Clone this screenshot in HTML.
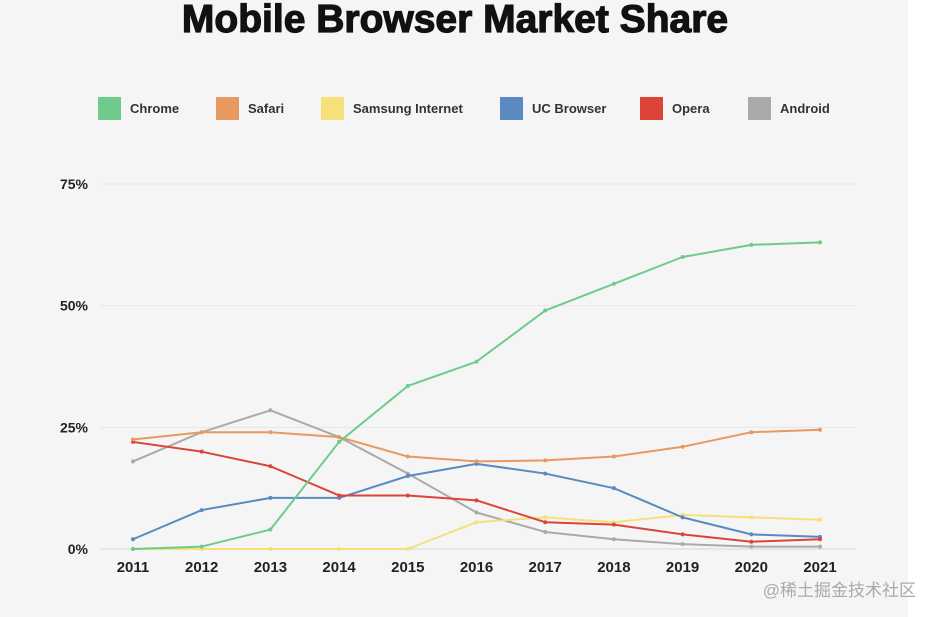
<!DOCTYPE html>
<html><head><meta charset="utf-8">
<style>
html,body{margin:0;padding:0;background:#fff;}
#wrap{position:relative;width:935px;height:617px;overflow:hidden;background:#fff;}
#panel{position:absolute;left:0;top:0;width:908px;height:617px;background:#f5f5f5;}
svg{position:absolute;left:0;top:0;}
</style></head>
<body>
<div id="wrap">
<div id="panel"></div>
<svg id="chart" width="935" height="617">
<text x="455" y="32" text-anchor="middle" font-family="Liberation Sans, sans-serif" font-weight="bold" font-size="39" fill="#111" stroke="#111" stroke-width="1.2">Mobile Browser Market Share</text>
<g id="legend"></g>
<g id="grid"></g>
<g id="yaxis"></g>
<g id="xaxis"></g>
<g id="series"></g>
<text x="916" y="596" text-anchor="end" font-family="Liberation Sans, 'Noto Sans CJK SC', sans-serif" font-size="17" fill="#aaa">@稀土掘金技术社区</text>
</svg>
</div>
<script>
const years = [2011,2012,2013,2014,2015,2016,2017,2018,2019,2020,2021];
const yTicks = [0,25,50,75];
const yTickLabels = ["0%","25%","50%","75%"];
const seriesNames = ["Chrome","Safari","Samsung Internet","UC Browser","Opera","Android"];
const seriesColors = ["#6fcb8c","#e8995f","#f5e07a","#5a8ac0","#db4436","#aaaaaa"];
const chrome = [0,0.5,4,22,33.5,38.5,49,54.5,60,62.5,63];
const safari = [22.5,24,24,23,19,18,18.2,19,21,24,24.5];
const samsung = [0,0,0,0,0,5.5,6.5,5.5,7,6.5,6];
const ucbrowser = [2,8,10.5,10.5,15,17.5,15.5,12.5,6.5,3,2.5];
const opera = [22,20,17,11,11,10,5.5,5,3,1.5,2];
const android = [18,24,28.5,23,15.5,7.5,3.5,2,1,0.5,0.5];
const allSeries = [chrome,safari,samsung,ucbrowser,opera,android];

const NS="http://www.w3.org/2000/svg";
const x0=133,x1=820,y0=549,y75=184;
function xs(i){return x0+(x1-x0)*i/(years.length-1);}
function ys(v){return y0-(y0-y75)*v/75;}
function mk(tag,attrs,parent){const e=document.createElementNS(NS,tag);for(const k in attrs)e.setAttribute(k,attrs[k]);parent.appendChild(e);return e;}

const grid=document.getElementById('grid'),yaxis=document.getElementById('yaxis'),xaxis=document.getElementById('xaxis'),ser=document.getElementById('series'),leg=document.getElementById('legend');
yTicks.forEach((t,i)=>{
  const l=mk('line',{x1:100,x2:855,y1:ys(t),y2:ys(t),stroke:t===0?'#d8d8d8':'#e6e6e6','stroke-width':1},grid);
  
  
  const tx=mk('text',{x:88,y:ys(t)+5,'text-anchor':'end','font-family':'Liberation Sans, sans-serif','font-weight':'bold','font-size':14,fill:'#222'},yaxis);
  tx.textContent=yTickLabels[i];
  
  
});
years.forEach((yr,i)=>{
  const tx=mk('text',{x:xs(i),y:572,'text-anchor':'middle','font-family':'Liberation Sans, sans-serif','font-weight':'bold','font-size':15,fill:'#222'},xaxis);
  tx.textContent=yr;
  
  
});
const order=[5,2,3,4,1,0];
order.forEach(si=>{
  const d=allSeries[si];
  const pts=d.map((v,i)=>xs(i)+','+ys(v)).join(' ');
  const pl=mk('polyline',{points:pts,fill:'none',stroke:seriesColors[si],'stroke-width':2,'stroke-linejoin':'round'},ser);
  
  
  d.forEach((v,i)=>{
    const c=mk('circle',{cx:xs(i),cy:ys(v),r:2,fill:seriesColors[si]},ser);
    
    
  });
});
const legX=[98,216,321,500,640,748];
seriesNames.forEach((n,i)=>{
  const r=mk('rect',{x:legX[i],y:97,width:23,height:23,fill:seriesColors[i]},leg);
  
  
  const t=mk('text',{x:legX[i]+32,y:113,'font-family':'Liberation Sans, sans-serif','font-weight':'bold','font-size':13,fill:'#333'},leg);
  t.textContent=n;
  
  
});
</script>
</body></html>
